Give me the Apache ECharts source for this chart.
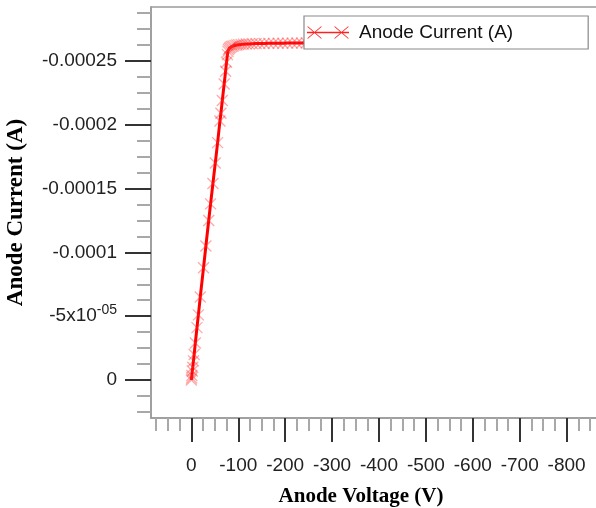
<!DOCTYPE html>
<html style="height: 100%">
<head>
<meta charset="utf-8">
<script src="https://cdn.jsdelivr.net/npm/echarts/dist/echarts.min.js"></script>
</head>
<body style="height: 100%; margin: 0; background: #fff">
<div id="container" style="width: 596px; height: 508px"></div>
<script type="text/javascript">
// anode voltage (V) and anode current (A)
var voltage = [0, -0.5, -1, -2, -3, -4.5, -6, -8.5, -12, -15, -19, -26, -31, -37, -41, -46, -51, -56,
  -61, -63, -66, -70, -73, -75, -77, -78, -79, -81, -83, -86, -89, -93, -97, -101, -106, -111,
  -117, -123, -130, -138, -146, -155, -165, -175, -185, -195, -205, -215, -225, -235, -245, -255];
var current = [0, -1.5e-6, -3.5e-6, -7e-6, -1.0e-5, -1.5e-5, -2.0e-5, -2.9e-5, -4.1e-5, -5.1e-5,
  -6.5e-5, -8.8e-5, -1.05e-4, -1.25e-4, -1.38e-4, -1.54e-4, -1.70e-4, -1.86e-4,
  -2.03e-4, -2.09e-4, -2.19e-4, -2.32e-4, -2.42e-4, -2.49e-4, -2.55e-4, -2.575e-4, -2.59e-4,
  -2.60e-4, -2.607e-4, -2.613e-4, -2.618e-4, -2.622e-4, -2.625e-4, -2.628e-4, -2.63e-4, -2.632e-4,
  -2.633e-4, -2.634e-4, -2.635e-4, -2.636e-4, -2.636e-4, -2.637e-4, -2.638e-4, -2.638e-4, -2.639e-4,
  -2.639e-4, -2.64e-4, -2.64e-4, -2.641e-4, -2.641e-4, -2.642e-4, -2.642e-4];

var xTickValues = [0, -100, -200, -300, -400, -500, -600, -700, -800];
var xTickLabels = ['0', '-100', '-200', '-300', '-400', '-500', '-600', '-700', '-800'];
var yTickValues = [0, -0.00005, -0.0001, -0.00015, -0.0002, -0.00025];
var yTickLabels = ['0', '-5x10{sup|-05}', '-0.0001', '-0.00015', '-0.0002', '-0.00025'];
var seriesName = 'Anode Current (A)';

var xMinor = [];
for (var k = 3; k >= -34; k--) { if (k % 4 !== 0) xMinor.push(k * 25); }
var yMinor = [];
for (var j = 2; j >= -23; j--) { if (j % 4 !== 0) yMinor.push(j * 12.5e-6); }

var points = voltage.map(function (v, i) { return [v, current[i]]; });

function pick(values, labels, v) {
  for (var i = 0; i < values.length; i++) {
    if (Math.abs(values[i] - v) < 1e-9) return labels[i];
  }
  return '';
}

var xMin = -869, xMax = 86;
var yMin = -0.0002923, yMax = 0.0000298;
var sans = 'Liberation Sans, Arial, sans-serif';
var serif = 'Liberation Serif, Times New Roman, serif';

var myChart = echarts.init(document.getElementById('container'));
var option = {
  animation: false,
  backgroundColor: '#fff',
  grid: {
    left: 151, top: 7, right: -3, bottom: 90,
    outerBoundsMode: 'none', containLabel: false,
    show: true, borderColor: '#9a9a9a', borderWidth: 1.5
  },
  legend: {
    data: [seriesName],
    left: 304, top: 16,
    orient: 'horizontal',
    padding: [7, 75, 7, 3],
    backgroundColor: '#fff',
    borderColor: '#8a8a8a',
    borderWidth: 1.2,
    borderRadius: 0,
    itemWidth: 42, itemHeight: 12,
    icon: 'path://M0,5.3L42,5.3L42,6.7L0,6.7Z' +
      'M0,0L1.2,0L15,12L13.8,12Z M13.8,0L15,0L1.2,12L0,12Z' +
      'M27,0L28.2,0L42,12L40.8,12Z M40.8,0L42,0L28.2,12L27,12Z',
    itemStyle: { color: '#ff2020', borderWidth: 0 },
    textStyle: { fontFamily: sans, fontSize: 19, color: '#111', padding: [0, 0, 0, 5] }
  },
  xAxis: [{
    type: 'value', min: xMin, max: xMax, inverse: true,
    name: 'Anode Voltage (V)', nameLocation: 'middle', nameGap: 68, nameMoveOverlap: false,
    nameTextStyle: { fontFamily: serif, fontWeight: 'bold', fontSize: 21, color: '#000', padding: [0, 28, 0, 0] },
    axisLine: { show: true, onZero: false, lineStyle: { color: '#9a9a9a', width: 1.5 } },
    axisTick: { show: true, customValues: xTickValues, length: 24, lineStyle: { color: '#333', width: 2 } },
    axisLabel: {
      customValues: xTickValues, margin: 38,
      fontFamily: sans, fontSize: 19, color: '#222',
      formatter: function (v) { return pick(xTickValues, xTickLabels, v); }
    },
    splitLine: { show: false }
  }, {
    type: 'value', min: xMin, max: xMax, inverse: true, position: 'bottom',
    axisLine: { show: false, onZero: false },
    axisTick: { show: true, customValues: xMinor, length: 13, lineStyle: { color: '#a8a8a8', width: 2 } },
    axisLabel: { show: false },
    splitLine: { show: false }
  }],
  yAxis: [{
    type: 'value', min: yMin, max: yMax, inverse: true,
    name: 'Anode Current (A)', nameLocation: 'middle', nameGap: 123, nameMoveOverlap: false,
    nameTextStyle: { fontFamily: serif, fontWeight: 'bold', fontSize: 23, color: '#000' },
    axisLine: { show: true, onZero: false, lineStyle: { color: '#9a9a9a', width: 1.5 } },
    axisTick: { show: true, customValues: yTickValues, length: 26, lineStyle: { color: '#333', width: 2 } },
    axisLabel: {
      customValues: yTickValues, margin: 34,
      fontFamily: sans, fontSize: 19, color: '#222',
      formatter: function (v) { return pick(yTickValues, yTickLabels, v); },
      rich: {
        sup: { fontFamily: sans, fontSize: 14, color: '#222', padding: [0, 0, 12, 0] }
      }
    },
    splitLine: { show: false }
  }, {
    type: 'value', min: yMin, max: yMax, inverse: true, position: 'left',
    axisLine: { show: false, onZero: false },
    axisTick: { show: true, customValues: yMinor, length: 14, lineStyle: { color: '#a8a8a8', width: 2 } },
    axisLabel: { show: false },
    splitLine: { show: false }
  }],
  series: [{
    name: seriesName,
    type: 'line',
    xAxisIndex: 0, yAxisIndex: 0,
    data: points,
    showAllSymbol: true,
    symbol: 'path://M0,0L10,10M10,0L0,10',
    symbolSize: 11,
    itemStyle: { color: 'rgba(255,0,0,0)', borderColor: 'rgba(255,40,40,0.4)', borderWidth: 1.3 },
    lineStyle: { color: '#ff0000', width: 3 },
    z: 2
  }]
};
myChart.setOption(option);
</script>
</body>
</html>
